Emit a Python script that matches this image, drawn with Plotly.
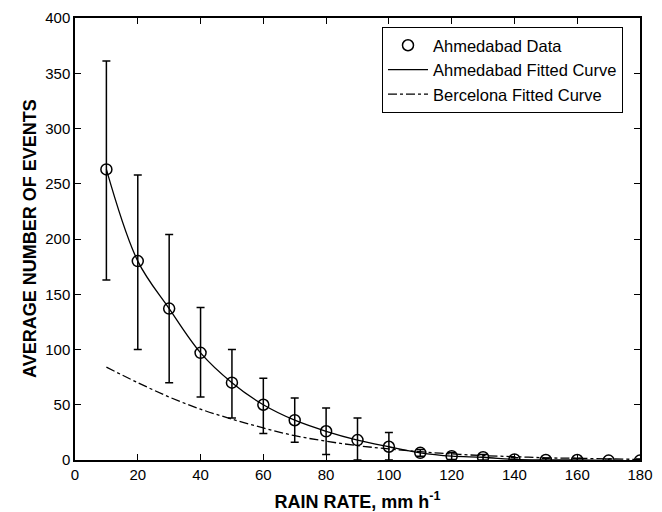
import plotly.graph_objects as go

rain_rate = [10, 20, 30, 40, 50, 60, 70, 80, 90, 100, 110, 120, 130, 140, 150, 160, 170, 180]
ahmedabad_mean = [263, 180, 137, 97, 70, 50, 36, 26, 18, 12, 6.5, 3.5, 2.5, 0.5, 0, 0, -0.5, -0.5]
ahmedabad_upper = [361, 258, 204, 138, 100, 74, 56, 47, 38, 25, 9.5, 6.5, 5, 2, 1.5, 1.5, 1, 1]
ahmedabad_lower = [163, 100, 70, 57, 38, 24, 16, 5, 0, 0, 3.5, 0.5, 0, -1, -1.5, -1.5, -2, -2]
barcelona_fit = [84, 70, 57, 46, 37, 29, 22, 17, 13, 10, 7.5, 5.5, 4, 3, 2, 1.5, 1, 0.5]

x_ticks = [0, 20, 40, 60, 80, 100, 120, 140, 160, 180]
y_ticks = [0, 50, 100, 150, 200, 250, 300, 350, 400]

err_plus = [u - m for u, m in zip(ahmedabad_upper, ahmedabad_mean)]
err_minus = [m - l for m, l in zip(ahmedabad_mean, ahmedabad_lower)]

FONT = "Liberation Sans, Arial, sans-serif"

fig = go.Figure()
fig.add_trace(go.Scatter(
    x=rain_rate, y=ahmedabad_mean, mode="markers", name="Ahmedabad Data",
    marker=dict(symbol="circle-open", size=11, color="black", line=dict(width=1.5, color="black")),
    error_y=dict(type="data", symmetric=False, array=err_plus, arrayminus=err_minus,
                 color="black", thickness=1.5, width=4),
))
fig.add_trace(go.Scatter(
    x=rain_rate, y=ahmedabad_mean, mode="lines", name="Ahmedabad Fitted Curve",
    line=dict(color="black", width=1.3, shape="spline"),
))
fig.add_trace(go.Scatter(
    x=rain_rate, y=barcelona_fit, mode="lines", name="Bercelona Fitted Curve",
    line=dict(color="black", width=1.3, dash="dashdot", shape="spline"),
))

axis_common = dict(
    showline=True, linecolor="black", linewidth=1.5, mirror="allticks",
    ticks="inside", ticklen=6, tickcolor="black", tickwidth=1.2,
    showgrid=False, zeroline=False, automargin=False,
    tickfont=dict(family=FONT, size=15, color="black"),
)

fig.update_layout(
    width=662, height=512,
    margin=dict(l=75, r=22, t=18, b=52),
    paper_bgcolor="white", plot_bgcolor="white",
    showlegend=True,
    legend=dict(
        x=0.543, y=0.98, xanchor="left", yanchor="top",
        bordercolor="black", borderwidth=1.2, bgcolor="white",
        font=dict(family=FONT, size=16.5, color="black"),
        tracegroupgap=0, itemwidth=40,
    ),
    xaxis=dict(
        range=[0, 180], tickvals=x_ticks,
        title=dict(text="<b>RAIN RATE, mm h<sup>-1</sup></b>",
                   font=dict(family=FONT, size=18, color="black")),
        **axis_common,
    ),
    yaxis=dict(
        range=[0, 400], tickvals=y_ticks,
        **axis_common,
    ),
    annotations=[dict(
        text="<b>AVERAGE NUMBER OF EVENTS</b>", textangle=-90,
        xref="paper", yref="paper", x=0, y=0.5, xanchor="center", yanchor="middle",
        xshift=-45, showarrow=False,
        font=dict(family=FONT, size=18, color="black"),
    )],
)

fig.write_html("out.html")
